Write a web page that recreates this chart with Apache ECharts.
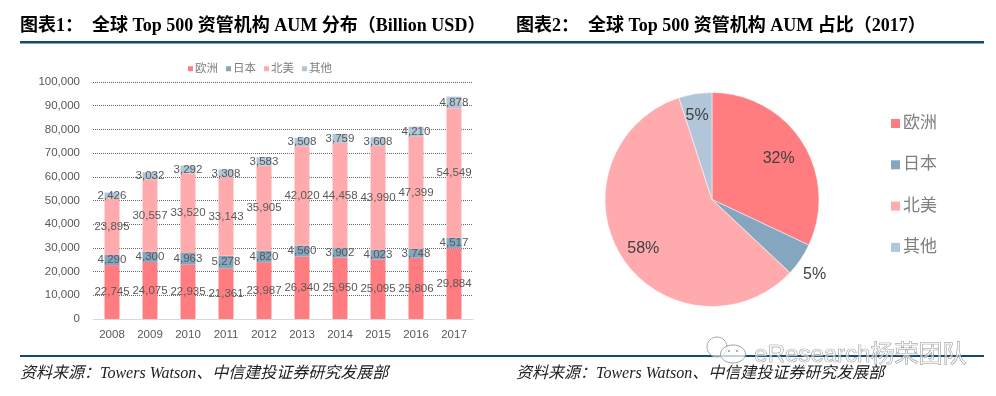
<!DOCTYPE html>
<html>
<head>
<meta charset="utf-8">
<style>
html, body { margin: 0; padding: 0; background: #fff; }
#main { width: 996px; height: 396px; }
</style>
<script src="https://cdn.jsdelivr.net/npm/echarts@6/dist/echarts.min.js"></script>
</head>
<body>
<div id="main"></div>
<script>
var years = ['2008', '2009', '2010', '2011', '2012', '2013', '2014', '2015', '2016', '2017'];
var europe = [22745, 24075, 22935, 21361, 23987, 26340, 25950, 25095, 25806, 29884];
var japan = [4290, 4300, 4963, 5278, 4820, 4560, 3902, 4023, 3748, 4517];
var northAmerica = [23895, 30557, 33520, 33143, 35905, 42020, 44458, 43990, 47399, 54549];
var others = [2426, 3032, 3292, 3308, 3583, 3508, 3759, 3608, 4210, 4878];
var regionNames = ['欧洲', '日本', '北美', '其他'];
var share2017 = [32, 5, 58, 5];
var title1 = '图表1：  全球 Top 500 资管机构 AUM 分布（Billion USD）';
var title2 = '图表2：  全球 Top 500 资管机构 AUM 占比（2017）';
var sourceText = '资料来源：Towers Watson、中信建投证券研究发展部';
var watermark = 'eResearch杨荣团队';

var colors = ['#ff7c80', '#84a6bf', '#ffabad', '#b1c6d8'];
var titleFont = '"Liberation Serif", "Noto Sans CJK SC"';
var plainFont = '"Liberation Sans", "Noto Sans CJK SC"';

function barSeries(name, values, color) {
    return {
        name: name,
        type: 'bar',
        stack: 'aum',
        barWidth: 15,
        data: values,
        itemStyle: { color: color },
        label: {
            show: true,
            position: 'inside',
            color: '#595959',
            fontSize: 11.5,
            fontFamily: plainFont,
            formatter: function (p) {
                return echarts.format.addCommas(p.value);
            }
        }
    };
}

function headerText(x, text) {
    return {
        type: 'text', left: x, top: 17, silent: true,
        style: { text: text, fill: '#000', font: 'bold 18px ' + titleFont }
    };
}

function sourceLine(x) {
    return {
        type: 'text', left: x, top: 366, silent: true,
        style: { text: sourceText, fill: '#222', font: 'italic 16px ' + titleFont }
    };
}

// 饼图标签的微调，对应 欧洲 日本 北美 其他
var pieLabelShift = [[19, -11], [-9, 10], [-21, 19], [-6, -28]];

var option = {
    animation: false,
    legend: [
        {
            left: 183, top: 58,
            data: regionNames,
            icon: 'rect',
            itemWidth: 5, itemHeight: 5, itemGap: 8,
            selectedMode: false,
            textStyle: { color: '#7f7f7f', fontSize: 11.5, fontFamily: plainFont, padding: [0, 0, 0, -3] }
        },
        {
            orient: 'vertical',
            left: 886, top: 110,
            data: regionNames,
            icon: 'rect',
            itemWidth: 9, itemHeight: 9, itemGap: 24.3,
            selectedMode: false,
            textStyle: { color: '#7f7f7f', fontSize: 17, fontFamily: plainFont, padding: [0, 0, 0, -2] }
        }
    ],
    grid: { left: 93, top: 82, width: 380, height: 237 },
    xAxis: {
        type: 'category',
        data: years,
        axisLine: { lineStyle: { color: '#d9d9d9' } },
        axisTick: { show: false },
        axisLabel: { color: '#595959', fontSize: 11.5, fontFamily: plainFont, margin: 10 }
    },
    yAxis: {
        type: 'value',
        min: 0, max: 100000, interval: 10000,
        axisLine: { show: false },
        axisTick: { show: false },
        splitLine: { lineStyle: { color: '#666', type: 'dotted' } },
        axisLabel: {
            color: '#595959', fontSize: 11.5, fontFamily: plainFont, margin: 13,
            formatter: function (v) { return echarts.format.addCommas(v); }
        }
    },
    series: [
        barSeries(regionNames[0], europe, colors[0]),
        barSeries(regionNames[1], japan, colors[1]),
        barSeries(regionNames[2], northAmerica, colors[2]),
        barSeries(regionNames[3], others, colors[3]),
        {
            type: 'pie',
            center: [712, 199.5],
            radius: 107,
            startAngle: 90,
            data: regionNames.map(function (n, i) {
                return {
                    name: n,
                    value: share2017[i],
                    itemStyle: { color: colors[i] },
                    label: { position: i === 1 ? 'outside' : 'inside' },
                    labelLine: { show: false, length: 8, length2: 0 }
                };
            }),
            itemStyle: { borderColor: '#fff', borderWidth: 0.5 },
            label: {
                color: '#404040', fontSize: 16, fontFamily: plainFont,
                formatter: function (p) { return p.value + '%'; }
            },
            labelLayout: function (p) {
                var s = pieLabelShift[p.dataIndex];
                return { dx: s[0], dy: s[1] };
            }
        }
    ],
    graphic: [
        headerText(20, title1),
        headerText(516, title2),
        { type: 'rect', silent: true, shape: { x: 20, y: 41, width: 964, height: 2.4 }, style: { fill: '#134a73' } },
        { type: 'rect', silent: true, shape: { x: 20, y: 355, width: 964, height: 2 }, style: { fill: '#134a73' } },
        sourceLine(20),
        sourceLine(516),
        {
            type: 'text', left: 754, top: 343, silent: true,
            style: { text: watermark, fill: 'rgba(255,255,255,0.55)', stroke: '#8a8a8a', lineWidth: 0.7, font: '24px ' + plainFont }
        },
        { type: 'ellipse', silent: true, shape: { cx: 717, cy: 347, rx: 10, ry: 10 }, style: { fill: 'rgba(255,255,255,0.6)', stroke: '#a8a8a8', lineWidth: 1 } },
        { type: 'ellipse', silent: true, shape: { cx: 733, cy: 354, rx: 12.5, ry: 9 }, style: { fill: 'rgba(255,255,255,0.75)', stroke: '#a0a0a0', lineWidth: 1 } },
        { type: 'circle', silent: true, shape: { cx: 729, cy: 351, r: 1 }, style: { fill: '#999' } },
        { type: 'circle', silent: true, shape: { cx: 737, cy: 351, r: 1 }, style: { fill: '#999' } }
    ]
};

var chart = echarts.init(document.getElementById('main'), null, { renderer: 'canvas' });
chart.setOption(option);
</script>
</body>
</html>
